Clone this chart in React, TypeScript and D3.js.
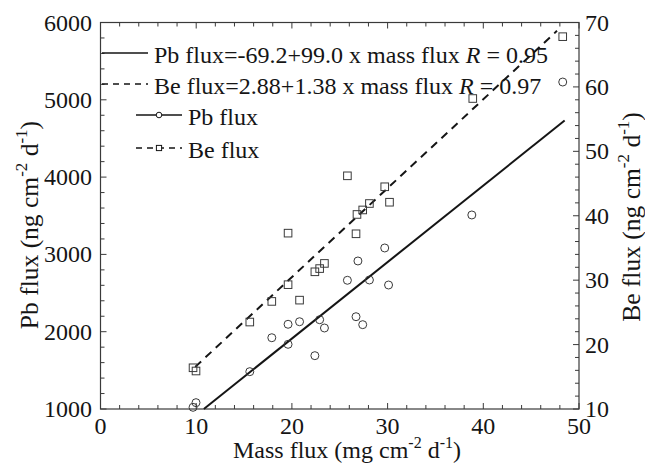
import React, { useEffect, useRef } from "react";
import * as d3 from "d3";

// values
const pbMass = [9.67, 9.98, 15.6, 17.9, 19.6, 19.6, 20.8, 22.4, 22.9, 23.4, 25.8, 26.7, 26.9, 27.4, 28.1, 29.7, 30.1, 38.8, 48.3];
const pbFlux = [1022, 1082, 1483, 1922, 2096, 1837, 2129, 1690, 2155, 2048, 2665, 2194, 2915, 2091, 2669, 3083, 2604, 3510, 5230];

const beMass = [9.67, 9.98, 15.6, 17.9, 19.6, 19.6, 20.8, 22.4, 22.9, 23.4, 25.8, 26.7, 26.8, 27.4, 28.1, 29.7, 30.2, 38.9, 48.3];
const beFlux = [16.4, 15.9, 23.5, 26.7, 37.3, 29.3, 26.9, 31.3, 31.8, 32.6, 46.2, 37.2, 40.2, 40.9, 41.9, 44.5, 42.1, 58.2, 67.8];

// fits: [intercept, slope], drawn over these mass ranges
const pbFit = [-69.2, 99.0];
const beFit = [2.88, 1.38];
const pbFitRange = [(1000 + 69.2) / 99.0, 48.5];
const beFitRange = [9.9, 47.7];

const xTicks = [0, 10, 20, 30, 40, 50];
const leftTicks = [1000, 2000, 3000, 4000, 5000, 6000];
const rightTicks = [10, 20, 30, 40, 50, 60, 70];

const legendLabels = [
  "Pb flux=-69.2+99.0 x mass flux ",
  "Be flux=2.88+1.38 x mass flux ",
  "Pb flux",
  "Be flux",
];
const legendR = [" = 0.95", " = 0.97"];

const FONT = "'Liberation Serif', 'Times New Roman', serif";
const INK = "#151515";
const AXIS = "#3a3a3a";

const Chart = () => {
  const svgRef = useRef<SVGSVGElement>(null);

  useEffect(() => {
    const svg = d3.select(svgRef.current);
    svg.selectAll("*").remove();

    const left = 100.5, right = 579, top = 22.5, bottom = 409;

    const x = d3.scaleLinear().domain([0, 50]).range([left, right]);
    const yL = d3.scaleLinear().domain([1000, 6000]).range([bottom, top]);
    const yR = d3.scaleLinear().domain([10, 70]).range([bottom, top]);

    const g = svg.append("g");

    // frame
    g.append("rect")
      .attr("x", left)
      .attr("y", top)
      .attr("width", right - left)
      .attr("height", bottom - top)
      .attr("fill", "none")
      .attr("stroke", AXIS)
      .attr("stroke-width", 1.2);

    // ticks (all pointing inward)
    d3.range(0, 50.01, 2).forEach((v) => {
      const len = v % 10 === 0 ? 6 : 4;
      g.append("line").attr("x1", x(v)).attr("x2", x(v)).attr("y1", bottom).attr("y2", bottom - len)
        .attr("stroke", AXIS).attr("stroke-width", 1);
      g.append("line").attr("x1", x(v)).attr("x2", x(v)).attr("y1", top).attr("y2", top + len)
        .attr("stroke", AXIS).attr("stroke-width", 1);
    });
    d3.range(1000, 6000.1, 200).forEach((v) => {
      const len = v % 1000 === 0 ? 6 : 4;
      g.append("line").attr("x1", left).attr("x2", left + len).attr("y1", yL(v)).attr("y2", yL(v))
        .attr("stroke", AXIS).attr("stroke-width", 1);
    });
    d3.range(10, 70.1, 2).forEach((v) => {
      const len = v % 10 === 0 ? 6 : 4;
      g.append("line").attr("x1", right).attr("x2", right - len).attr("y1", yR(v)).attr("y2", yR(v))
        .attr("stroke", AXIS).attr("stroke-width", 1);
    });

    // tick labels
    g.selectAll(".xl").data(xTicks).enter().append("text")
      .attr("x", (d) => x(d)).attr("y", 434)
      .attr("text-anchor", "middle")
      .attr("font-family", FONT).attr("font-size", 24).attr("fill", INK)
      .text((d) => d);
    g.selectAll(".yl").data(leftTicks).enter().append("text")
      .attr("x", 92).attr("y", (d) => yL(d) + 8)
      .attr("text-anchor", "end")
      .attr("font-family", FONT).attr("font-size", 24).attr("fill", INK)
      .text((d) => d);
    g.selectAll(".yr").data(rightTicks).enter().append("text")
      .attr("x", 585).attr("y", (d) => yR(d) + 8)
      .attr("text-anchor", "start")
      .attr("font-family", FONT).attr("font-size", 24).attr("fill", INK)
      .text((d) => d);

    // axis titles with superscripts
    const title = (sel, pre, unit, size) => {
      const sup = Math.round(size * 0.66);
      const up = Math.round(size * 0.42);
      sel.attr("font-family", FONT).attr("font-size", size).attr("fill", INK).attr("text-anchor", "middle");
      sel.append("tspan").text(pre + " (" + unit + " cm");
      sel.append("tspan").attr("dy", -up).attr("font-size", sup).text("-2");
      sel.append("tspan").attr("dy", up).text(" d");
      sel.append("tspan").attr("dy", -up).attr("font-size", sup).text("-1");
      sel.append("tspan").attr("dy", up).text(")");
    };
    title(g.append("text").attr("x", 347).attr("y", 458), "Mass flux", "mg", 24);
    title(g.append("text").attr("transform", "translate(38,225) rotate(-90)"), "Pb flux", "ng", 25.5);
    title(g.append("text").attr("transform", "translate(640,217) rotate(-90)"), "Be flux", "ng", 25.5);

    // fitted lines
    const line = d3.line<number>();
    g.append("path")
      .attr("d", line(pbFitRange.map((m) => [x(m), yL(pbFit[0] + pbFit[1] * m)])))
      .attr("stroke", INK).attr("stroke-width", 2).attr("fill", "none");
    g.append("path")
      .attr("d", line(beFitRange.map((m) => [x(m), yR(beFit[0] + beFit[1] * m)])))
      .attr("stroke", INK).attr("stroke-width", 2).attr("fill", "none")
      .attr("stroke-dasharray", "8,6");

    // points
    g.selectAll(".pb").data(pbFlux).enter().append("circle")
      .attr("cx", (d, i) => x(pbMass[i])).attr("cy", (d) => yL(d)).attr("r", 4)
      .attr("fill", "none").attr("stroke", AXIS).attr("stroke-width", 1);
    g.selectAll(".be").data(beFlux).enter().append("rect")
      .attr("x", (d, i) => x(beMass[i]) - 3.8).attr("y", (d) => yR(d) - 3.8)
      .attr("width", 7.6).attr("height", 7.6)
      .attr("fill", "none").attr("stroke", AXIS).attr("stroke-width", 1);

    // legend
    const rows = [
      { y: 53, x1: 102, x2: 148, tx: 154, dash: null, mark: null },
      { y: 84, x1: 102, x2: 148, tx: 154, dash: "6,5", mark: null },
      { y: 115, x1: 136, x2: 182, tx: 188, dash: null, mark: "circle" },
      { y: 148, x1: 136, x2: 182, tx: 188, dash: "6,5", mark: "square" },
    ];
    rows.forEach((r, i) => {
      g.append("line").attr("x1", r.x1).attr("x2", r.x2).attr("y1", r.y).attr("y2", r.y)
        .attr("stroke", INK).attr("stroke-width", 1.6)
        .attr("stroke-dasharray", r.dash);
      const cx = (r.x1 + r.x2) / 2;
      if (r.mark === "circle") {
        g.append("circle").attr("cx", cx).attr("cy", r.y).attr("r", 2.8)
          .attr("fill", "white").attr("stroke", INK).attr("stroke-width", 1);
      } else if (r.mark === "square") {
        g.append("rect").attr("x", cx - 2.6).attr("y", r.y - 2.6).attr("width", 5.2).attr("height", 5.2)
          .attr("fill", "white").attr("stroke", INK).attr("stroke-width", 1);
      }
      const t = g.append("text").attr("x", r.tx).attr("y", r.y + 10)
        .attr("font-family", FONT).attr("font-size", 24).attr("fill", INK);
      t.append("tspan").text(legendLabels[i]);
      if (i < 2) {
        t.append("tspan").attr("font-style", "italic").text("R");
        t.append("tspan").text(legendR[i]);
      }
    });
  }, []);

  return <svg ref={svgRef} width={645} height={463} style={{ position: "absolute", left: 0, top: 0 }}></svg>;
};

export default function App() {
  return <Chart />;
}
